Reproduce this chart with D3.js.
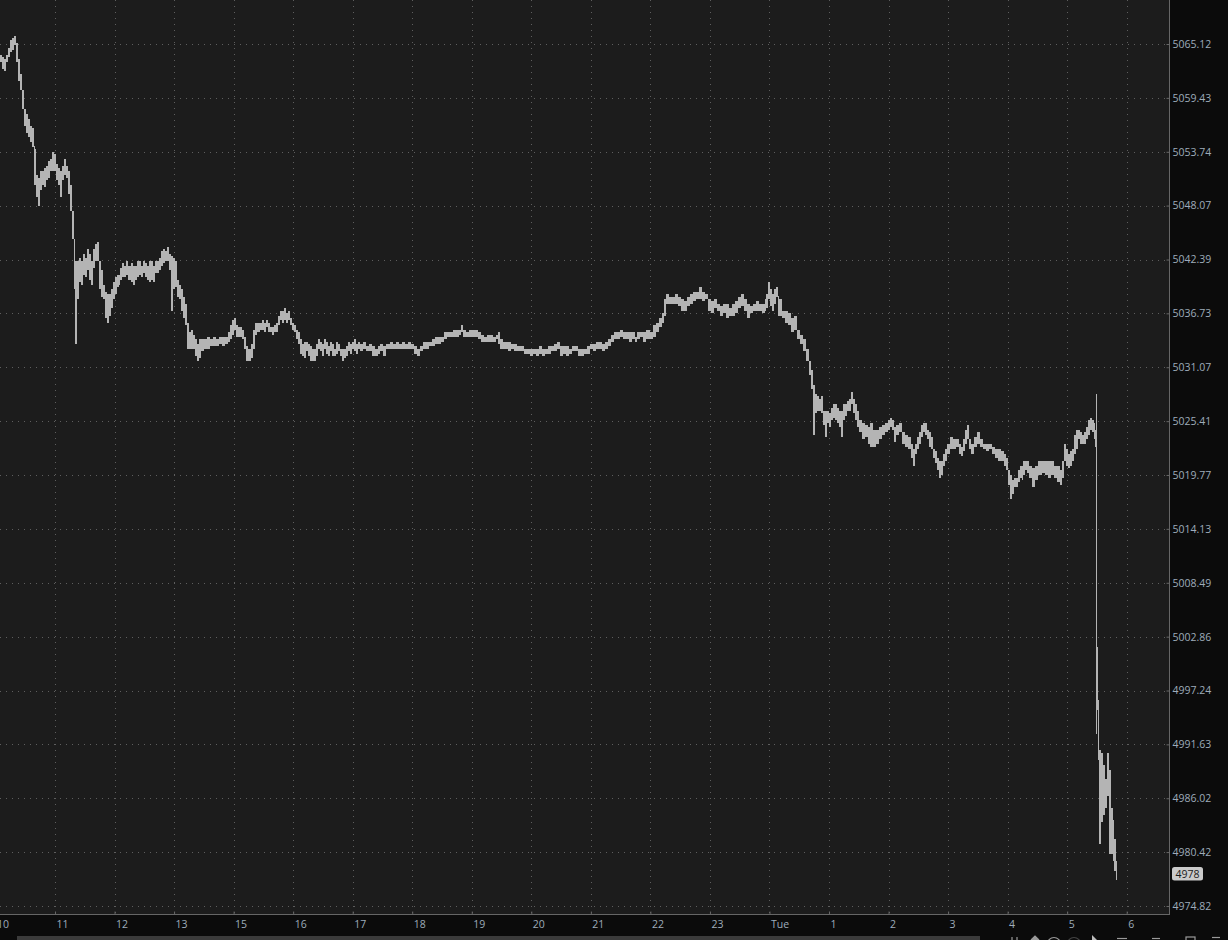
<!DOCTYPE html>
<html><head><meta charset="utf-8">
<script src="https://cdn.jsdelivr.net/npm/d3@7"></script>
<style>
html,body{margin:0;padding:0;background:#0b0b0b;overflow:hidden}
svg{display:block}
text{font-family:"Open Sans","Noto Sans",sans-serif;font-size:10.5px}
</style></head><body>
<svg id="chart" width="1228" height="940"></svg>
<script>
// ---- data ----
const hourLabels = ["10","11","12","13","15","16","17","18","19","20","21","22","23","Tue","1","2","3","4","5","6"];
const priceTicks = [5065.12,5059.43,5053.74,5048.07,5042.39,5036.73,5031.07,5025.41,5019.77,5014.13,5008.49,5002.86,4997.24,4991.63,4986.02,4980.42,4974.82];
const lastPrice = 4978;
// minutes since 10:00 session open (trading halt hour removed)
const barMinute = [
5,7,9,11,13,15,17,19,21,23,
25,27,29,31,33,35,37,39,41,43,
45,47,49,51,53,55,57,59,61,63,
65,67,69,71,73,75,77,79,80,82,
84,86,88,90,92,94,96,98,100,102,
104,106,108,110,112,114,116,118,120,122,
124,126,128,130,132,134,137,139,141,143,
145,147,149,151,153,155,157,159,161,163,
165,167,169,171,173,175,177,179,181,183,
185,187,189,191,193,195,197,199,201,203,
205,207,210,213,216,219,222,225,228,231,
234,236,238,240,242,244,246,248,250,252,
254,256,258,260,262,264,267,269,271,273,
275,277,279,281,283,285,287,289,291,293,
295,297,299,301,303,305,307,309,311,313,
315,317,319,321,323,325,327,329,331,333,
335,337,339,341,343,345,347,349,351,353,
355,357,359,361,363,365,367,370,373,376,
379,382,385,388,391,394,398,401,404,407,
410,413,416,419,422,425,428,431,434,437,
440,443,446,449,452,455,458,461,464,467,
469,471,474,477,480,483,486,489,492,495,
498,501,504,506,508,511,514,517,520,523,
526,530,533,536,539,542,545,548,551,554,
557,560,563,566,569,572,575,578,581,584,
587,590,593,596,599,602,605,608,611,614,
617,620,623,626,629,632,635,638,641,644,
647,650,653,656,660,663,666,669,672,674,
676,679,682,685,688,691,694,697,700,703,
706,709,712,715,718,721,724,727,730,733,
736,739,742,745,748,751,754,757,760,763,
766,769,772,775,777,779,781,783,785,787,
789,793,796,799,802,805,808,811,814,817,
820,822,824,826,828,830,832,834,836,838,
840,842,844,846,848,850,852,854,856,858,
860,862,864,866,868,870,873,876,879,881,
884,887,890,893,896,899,901,903,905,908,
911,914,917,920,923,925,927,929,931,933,
935,937,939,941,943,945,947,949,951,953,
955,957,959,962,965,968,971,973,975,977,
979,981,983,986,989,992,995,998,1001,1004,
1007,1010,1013,1016,1018,1020,1022,1024,1026,1028,
1030,1032,1034,1036,1038,1040,1042,1045,1048,1051,
1055,1058,1061,1064,1067,1070,1073,1075,1077,1079,
1081,1083,1085,1087,1089,1091,1093,1095,1097,1099,
1101,1103,1105,1107,1108,1109,1110,1111,1112,1114,
1116,1118,1120,1122,1124,1126,1127,1129];
const barHigh = [
5064,5063.75,5063.5,5064,5064.75,5065.5,5065.75,5066,5065.25,5063.5,
5062,5060.25,5058.25,5057.75,5057.25,5056.5,5056.25,5054,5051.25,5051,
5051.75,5051.75,5052,5052.25,5052.75,5053,5053.75,5053.5,5052.5,5052,
5051.75,5052.25,5053,5052.25,5051.75,5050.25,5047.5,5044.5,5042.25,5042.25,
5042.5,5042.25,5043,5042.5,5043.5,5043,5042.25,5043.5,5044,5044.25,
5042.25,5041.25,5039.75,5039,5038.75,5038.75,5039.25,5040,5040.5,5040.75,
5040.75,5041.5,5042,5041.75,5042.25,5041.75,5042,5041.75,5041.75,5042.25,
5042.25,5041.75,5042.25,5042,5041.75,5042.25,5042.25,5041.75,5042.25,5042.25,
5042.5,5043.25,5043.5,5043.25,5043.75,5043,5042.75,5042.5,5042.25,5040.25,
5039.75,5039.25,5038.5,5037.75,5035.75,5034.75,5035,5034.5,5034,5033.5,
5034,5034,5034,5034.25,5034,5034.25,5034,5034.25,5034.25,5034.25,
5034.75,5035.5,5036,5036.25,5035.5,5035.25,5035.25,5035,5034.25,5033.25,
5033,5033,5033.5,5035,5035.75,5035.75,5035.75,5036,5035.75,5036,
5035.75,5035.25,5035.25,5035.5,5035.75,5036.5,5037,5037,5037.25,5036.75,
5037,5036.25,5035.75,5035.5,5035,5034.75,5034,5033.5,5033.75,5033.75,
5033.5,5033.25,5033,5033,5033.5,5034,5033.75,5033.5,5034,5033.75,
5033.25,5033.75,5033.5,5033,5033.75,5033.5,5033,5033,5033,5033.25,
5033.75,5033.5,5033.75,5034,5033.5,5033.75,5033.5,5033.75,5033.25,5033.5,
5033.25,5033,5033.25,5033.5,5033.25,5033.5,5033.75,5033.5,5033.75,5033.5,
5033.75,5033.5,5033.75,5033.5,5033.25,5033,5033.25,5033.75,5033.75,5033.75,
5034,5034.25,5034.25,5034.25,5034.75,5034.75,5034.75,5035,5035,5035,
5035.5,5035,5034.75,5035,5035,5035,5034.75,5034.5,5034.25,5034.5,
5034.5,5034.25,5034.5,5034.75,5034,5033.75,5033.75,5033.75,5033.5,5033.5,
5033.25,5033.25,5033,5033,5033,5033,5033,5033.25,5033,5033,
5033.25,5033.25,5033.5,5033.75,5033.25,5033.25,5033.25,5033,5033.25,5033.25,
5033,5033,5033,5033.25,5033.5,5033.5,5033.75,5033.75,5033.5,5033.75,
5034,5034.5,5034.75,5034.75,5035,5034.75,5034.75,5034.75,5034.75,5034.25,
5034.75,5034.75,5034.75,5035,5034.75,5035.5,5035.75,5036.25,5036.75,5038.25,
5038.75,5038.5,5038.5,5038.75,5038.5,5038.25,5038,5038.5,5038.75,5039,
5039,5039.5,5039,5038.75,5038.25,5038,5038.25,5037.75,5037.5,5037.75,
5037.75,5037.25,5037.75,5038,5038.5,5038.75,5038.25,5037.75,5037.5,5037.75,
5038,5037.75,5037.75,5038.25,5038.75,5040,5039.25,5038.75,5039.25,5039.5,
5038.25,5037,5037,5036.75,5036.25,5036.5,5035,5034.5,5034,5033,
5031.75,5030.75,5029.25,5028.25,5028,5027.75,5028,5026.5,5026.5,5026.5,
5026.25,5026.75,5027.25,5027.25,5026.75,5026.5,5026.5,5027.25,5027.25,5027.5,
5027.75,5028.5,5027.75,5027.25,5026.5,5025.5,5025.25,5025,5024.75,5025.25,
5024.5,5024.5,5024.75,5025,5025.25,5025.5,5025.75,5025.5,5024.75,5025,
5025.25,5024.25,5024,5023.75,5023,5022.5,5023,5023.75,5024.25,5025,
5025.25,5025.25,5024.5,5024.25,5023.75,5022.5,5022.25,5021.5,5021.25,5021.25,
5022,5022.5,5023,5023.75,5023.5,5023.5,5023,5022.75,5023.5,5024.5,
5025,5023.5,5023,5023.75,5024.25,5023.5,5023,5023,5023,5022.75,
5022.5,5022.5,5022.25,5022,5021.5,5020.25,5019.75,5019.25,5019.5,5019.5,
5020.25,5020.75,5020.75,5021.25,5021.25,5021.25,5020.75,5020.5,5020.75,5021.25,
5021.25,5021.25,5021.25,5021.25,5020.75,5020.75,5020.25,5021.25,5023,5022.5,
5022,5022.25,5022.5,5024,5024.5,5024.5,5024.25,5024,5024.25,5024.75,
5025.5,5025.75,5025.5,5025.25,5024.5,5028.25,5001.75,4996.25,4991,4990.75,
4989.5,4988,4990.75,4989,4985,4983.75,4981.75,4979.5];
const barLow = [
5063.25,5062.5,5062.25,5063.25,5063.75,5064.25,5064.5,5065,5063.25,5061.25,
5060.25,5058.25,5056.5,5055.75,5055.25,5054.75,5054.25,5050.25,5049,5048,
5049.75,5050.25,5050,5050.75,5051,5051.75,5051.75,5051.75,5050.75,5050.25,
5049,5050.75,5051.25,5051,5049.25,5047.5,5044.5,5039.25,5033.5,5038.25,
5040,5039.75,5040.75,5040.5,5041.25,5040.25,5039.75,5041.5,5042.25,5042.25,
5039.25,5038.5,5038.25,5036.25,5035.75,5036.5,5037.25,5038.25,5038.75,5039.5,
5039.75,5040.25,5040.5,5040.5,5040.75,5040.25,5040,5039.75,5040.25,5040.5,
5040.75,5040.5,5041,5040.5,5040.25,5040,5040.25,5040,5041,5041,
5041.25,5041.75,5042,5042.25,5042.25,5041.25,5037,5039.25,5039.5,5038.5,
5038.25,5037,5036.25,5035.5,5033,5033,5033,5033,5032.25,5031.75,
5032,5032.75,5033,5033,5033.25,5033.25,5033.25,5033.5,5033.25,5033.5,
5033.75,5034,5034.5,5035,5034.25,5034.25,5034.25,5034,5033,5031.75,
5031.75,5031.75,5032,5033,5034.5,5034.75,5035,5035,5034.75,5035.25,
5034.75,5034.75,5034.5,5034.75,5034.75,5035.5,5036,5035.75,5036,5035.75,
5036,5035.5,5035,5034.75,5034,5033.5,5032.5,5032.25,5032,5032.75,
5032.25,5031.75,5031.75,5031.75,5032.25,5033,5032.75,5032.25,5033,5032.5,
5032.25,5032.75,5032.25,5032.25,5032.5,5032.75,5032.25,5031.75,5032,5032.25,
5032.75,5032.5,5033,5032.75,5032.5,5033,5032.75,5033,5032.75,5032.75,
5032.25,5032.25,5032.5,5032.75,5032.25,5033,5033,5033,5033,5033,
5033,5033,5033,5033,5032.5,5032.25,5032.75,5033,5033,5033.25,
5033.25,5033.5,5033.5,5033.75,5034,5034.25,5034.25,5034.25,5034.25,5034.5,
5034.75,5034.25,5034.25,5034.25,5034.25,5034.25,5034,5033.75,5033.75,5033.75,
5033.75,5033.75,5034,5033.5,5033,5033,5033,5032.75,5033,5032.75,
5032.75,5032.75,5032.5,5032.5,5032.25,5032.5,5032.25,5032.5,5032.25,5032.5,
5032.5,5032.75,5032.75,5033,5032.25,5032.5,5032.25,5032.5,5032.75,5032.75,
5032.25,5032.25,5032.5,5032.5,5033,5032.75,5033,5033,5032.75,5033,
5033.25,5033.75,5034,5034,5034.25,5034,5034,5033.75,5034,5033.75,
5034,5034.25,5033.75,5034,5034,5034.25,5034.75,5035.25,5035.75,5036.5,
5037.75,5037.75,5037.75,5037.75,5037.5,5037,5037,5037.5,5037.75,5038,
5038.25,5038.25,5038,5038.25,5037,5036.75,5037.25,5037,5036.5,5036.75,
5036.25,5036.5,5036.5,5036.75,5037.25,5037.5,5037,5036.25,5036.75,5037,
5037,5037,5036.75,5037,5037.25,5038.25,5037.5,5037,5037.75,5038.5,
5036.5,5036.25,5035.75,5035.5,5034.75,5035,5034,5033.5,5032.75,5031.75,
5030.25,5028.75,5024,5026.25,5026.5,5026.5,5026.25,5025,5023.75,5025.25,
5024.75,5025.5,5025.75,5025.5,5025.25,5024.75,5023.75,5025.5,5026,5026.5,
5026.5,5027.25,5026.25,5025.5,5024.75,5024.25,5023.5,5023.75,5023,5022.75,
5022.75,5023,5023.5,5024,5024.25,5024.5,5024.75,5024.5,5023.25,5024,
5024.25,5023,5022.75,5022.5,5021.5,5020.75,5022,5022.5,5023,5023.75,
5024.25,5024,5023.5,5022.75,5022.5,5021.5,5021,5020.25,5019.5,5019.75,
5020.75,5021.25,5022,5022.5,5022.5,5022.75,5022,5021.75,5022.25,5023,
5023.5,5022.5,5022,5022.75,5023,5022.75,5022.5,5022.25,5022.5,5022,
5021.5,5021.25,5021.25,5020.75,5020.25,5018.75,5017.25,5017.75,5018.5,5018.5,
5019,5019.5,5019.25,5019.75,5020.25,5020,5019.5,5018.5,5019.25,5019.75,
5020,5019.75,5019.5,5019.75,5019.5,5019,5018.75,5019.5,5021.25,5020.75,
5020.5,5020.75,5021.25,5022,5022.5,5023.5,5023,5023,5023,5023.5,
5024,5024.5,5024.25,5023.5,5022.75,4992.75,4995.25,4990,4981.25,4983.5,
4984.25,4985,4986.25,4980.25,4980.25,4979.5,4978.5,4977.5];

// ---- layout ----
const W = 1228, H = 940, plotR = 1169, plotB = 914;
const svg = d3.select("#chart");
const x = d3.scaleLinear().domain([0, 1140]).range([-4.54, 1126.7]);
const y = d3.scaleLog().domain([4974.82, 5065.12]).range([906, 44]);

svg.append("rect").attr("width", W).attr("height", H).attr("fill", "#0b0b0b");
svg.append("rect").attr("x", 0).attr("y", 0).attr("width", plotR).attr("height", plotB).attr("fill", "#1c1c1c");

const clip = svg.append("defs").append("clipPath").attr("id", "plotclip");
clip.append("rect").attr("x", 0).attr("y", 0).attr("width", plotR).attr("height", plotB);

// grid
const grid = svg.append("g").attr("clip-path", "url(#plotclip)")
  .attr("stroke", "#5e5e5e").attr("stroke-width", 1).attr("stroke-dasharray", "1,5")
  .attr("shape-rendering", "crispEdges");
const xTickVals = hourLabels.map((d, i) => i * 60);
grid.selectAll("line.v").data(xTickVals).join("line").attr("class", "v")
  .attr("x1", d => Math.round(x(d)) + 0.5).attr("x2", d => Math.round(x(d)) + 0.5)
  .attr("y1", 0).attr("y2", plotB);
grid.selectAll("line.h").data(priceTicks).join("line").attr("class", "h")
  .attr("y1", d => Math.round(y(d)) + 0.5).attr("y2", d => Math.round(y(d)) + 0.5)
  .attr("x1", 0).attr("x2", plotR);

// price bars (high-low band, stepped per bar)
const barColor = "#b4b4b4";
const bars = barMinute.map((m, i) => ({ m, hi: barHigh[i], lo: barLow[i] }));
const lastBar = bars[bars.length - 1];
const barsExt = bars.concat([{ m: lastBar.m + 1.5, hi: lastBar.hi, lo: lastBar.lo }]);
const area = d3.area().curve(d3.curveStepAfter)
  .x(d => x(d.m)).y0(d => y(d.lo)).y1(d => y(d.hi));
const pg = svg.append("g").attr("clip-path", "url(#plotclip)");
pg.append("path").datum(barsExt).attr("d", area)
  .attr("fill", barColor).attr("stroke", "none").attr("shape-rendering", "crispEdges");
// connectors where consecutive bars do not overlap
const gaps = [];
for (let i = 0; i + 1 < bars.length; i++) {
  const a = bars[i], b = bars[i + 1];
  if (a.lo > b.hi) gaps.push({ m: b.m, top: a.lo, bot: b.hi });
  else if (a.hi < b.lo) gaps.push({ m: b.m, top: b.lo, bot: a.hi });
}
pg.selectAll("line.gap").data(gaps).join("line").attr("class", "gap")
  .attr("x1", d => Math.round(x(d.m)) + 0.5).attr("x2", d => Math.round(x(d.m)) + 0.5)
  .attr("y1", d => y(d.top) - 0.5).attr("y2", d => y(d.bot) + 0.5)
  .attr("stroke", barColor).attr("stroke-width", 1).attr("shape-rendering", "crispEdges");

// axes
const axisColor = "#666";
const labelColor = "#9eabba";
const yAxis = d3.axisRight(y).tickValues(priceTicks).tickFormat(d3.format(".2f"))
  .tickSizeInner(-3).tickSizeOuter(0).tickPadding(3);
const gy = svg.append("g").attr("transform", `translate(${plotR + 0.5},0)`).call(yAxis);
gy.select(".domain").remove();
gy.selectAll(".tick line").attr("stroke", axisColor);
gy.selectAll(".tick text").attr("fill", labelColor).attr("font-family", null).attr("font-size", null);

const xAxis = d3.axisBottom(x).tickValues(xTickVals).tickFormat((d, i) => hourLabels[i])
  .tickSizeInner(-3).tickSizeOuter(0).tickPadding(6);
const gx = svg.append("g").attr("transform", `translate(0,${plotB + 0.5})`).call(xAxis);
gx.select(".domain").remove();
gx.selectAll(".tick line").attr("stroke", axisColor);
gx.selectAll(".tick text").attr("fill", labelColor).attr("text-anchor", "start").attr("dx", 1)
  .attr("font-family", null).attr("font-size", null);

// axis frame lines
svg.append("line").attr("x1", plotR + 0.5).attr("x2", plotR + 0.5).attr("y1", 0).attr("y2", plotB + 1)
  .attr("stroke", axisColor).attr("shape-rendering", "crispEdges");
svg.append("line").attr("x1", 0).attr("x2", plotR + 1).attr("y1", plotB + 0.5).attr("y2", plotB + 0.5)
  .attr("stroke", axisColor).attr("shape-rendering", "crispEdges");

// last price marker
const lpY = y(lastPrice) - 1.5;
svg.append("rect").attr("x", plotR + 3).attr("y", lpY - 6.8).attr("width", 31).attr("height", 13.5)
  .attr("rx", 2.5).attr("fill", "#cacaca");
svg.append("text").attr("x", plotR + 18.5).attr("y", lpY).attr("dy", "0.35em")
  .attr("text-anchor", "middle").attr("fill", "#1a1a1a").text(String(lastPrice));

// scrollbar + toolbar remnants at bottom
svg.append("rect").attr("x", 17).attr("y", 936).attr("width", 963).attr("height", 4).attr("fill", "#3b3b3b");
const tb = svg.append("g").attr("fill", "none").attr("stroke", "#9a9a9a").attr("stroke-width", 1.2);
tb.append("line").attr("x1", 1012).attr("x2", 1012).attr("y1", 937).attr("y2", 940);
tb.append("line").attr("x1", 1017).attr("x2", 1017).attr("y1", 937).attr("y2", 940);
tb.append("path").attr("d", "M1031,940 L1035,936 L1039,940").attr("fill", "#9a9a9a");
tb.append("circle").attr("cx", 1054).attr("cy", 944).attr("r", 6.5);
tb.append("circle").attr("cx", 1074).attr("cy", 944).attr("r", 6.5).attr("stroke", "#444");
tb.append("path").attr("d", "M1092,935 L1092,940 L1097,940 Z").attr("fill", "#bbb").attr("stroke", "none");
tb.append("line").attr("x1", 1117).attr("x2", 1127).attr("y1", 938.5).attr("y2", 938.5);
tb.append("line").attr("x1", 1152).attr("x2", 1160).attr("y1", 938.5).attr("y2", 938.5);
tb.append("rect").attr("x", 1186).attr("y", 937).attr("width", 9).attr("height", 6);
tb.append("line").attr("x1", 1212).attr("x2", 1220).attr("y1", 937.5).attr("y2", 937.5);
</script>
</body></html>
